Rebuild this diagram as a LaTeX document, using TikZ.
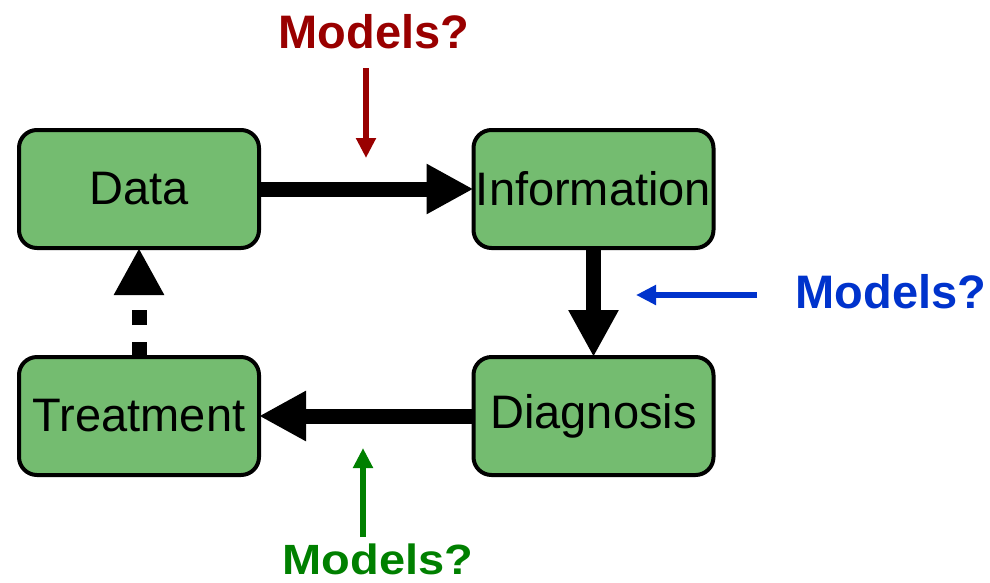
\documentclass[tikz,border=0pt]{standalone}
\usepackage{fontspec}
\setmainfont{Liberation Sans}
\usetikzlibrary{arrows.meta}

\definecolor{boxgreen}{RGB}{116,188,112}
\definecolor{modelred}{RGB}{153,0,0}
\definecolor{modelblue}{RGB}{0,51,204}
\definecolor{modelgreen}{RGB}{0,128,0}

\tikzset{
  stage/.style={draw=black, line width=4pt, fill=boxgreen, rounded corners=18pt,
    minimum width=240pt, minimum height=118pt, inner sep=0pt, outer sep=0pt,
    font=\fontsize{47}{50}\selectfont},
  flow/.style={line width=15pt, -{Triangle[length=47pt,width=47pt]}},
  question/.style={font=\fontsize{47}{50}\selectfont\bfseries, inner sep=0pt,
    text depth=0pt, anchor=base},
  hint/.style={line width=5.5pt, -{Triangle[length=20pt,width=19pt]}}
}

\begin{document}
\begin{tikzpicture}[x=1pt,y=-1pt]
  \useasboundingbox (0,0) rectangle (990,582);

  % the four stages of the cycle
  \node[stage] (data)  at (139,189)   {Data};
  \node[stage] (info)  at (593.5,189) {Information};
  \node[stage] (diag)  at (593.5,416) {Diagnosis};
  \node[stage] (treat) at (139,416)   {Treatment};

  % main flow between the stages
  \draw[flow] (data) -- (info);
  \draw[flow] (info) -- (diag);
  \draw[flow] (diag) -- (treat);
  \draw[flow, dash pattern=on 15pt off 17pt] (treat) -- (data);

  % where models may enter
  \node[question, text=modelred]   (qred)   at (374,48)  {Models?};
  \node[question, text=modelblue]  (qblue)  at (891,308) {Models?};
  \node[question, text=modelgreen, yscale=0.9] (qgreen) at (378,574) {Models?};

  \coordinate (redstart)   at (366,68);
  \coordinate (redend)     at (366,158);
  \coordinate (bluestart)  at (757,295);
  \coordinate (blueend)    at (636,295);
  \coordinate (greenstart) at (363,537);
  \coordinate (greenend)   at (363,448);

  \draw[hint, modelred]   (redstart)   -- (redend);
  \draw[hint, modelblue]  (bluestart)  -- (blueend);
  \draw[hint, modelgreen] (greenstart) -- (greenend);
\end{tikzpicture}
\end{document}
